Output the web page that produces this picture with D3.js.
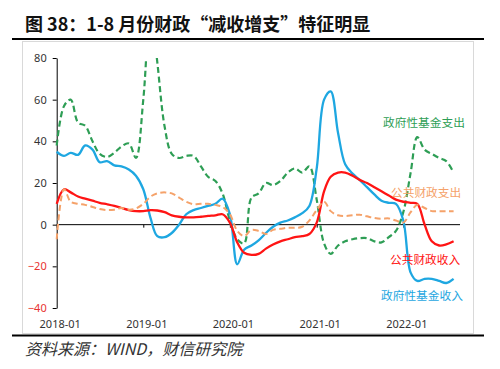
<!DOCTYPE html>
<html>
<head>
<meta charset="utf-8">
<script src="https://cdn.jsdelivr.net/npm/d3@7"></script>
<style>
  body { margin: 0; background: #fff; }
  svg { display: block; }
</style>
</head>
<body>
<svg id="chart" width="500" height="369"></svg>
<script>
// monthly data, 2018-01 .. 2022-08 (%, yoy cumulative)
const months = d3.timeMonth.range(new Date(2018, 0, 1), new Date(2022, 8, 1));

const fundExp = [38, 57, 60, 49, 47.5, 40, 34, 32.5, 34.5, 37.5,
  39, 32, 60, 105, 78, 47, 34, 32, 33, 33,
  28, 23, 21, 15, 2, -7, -9, 13, 15, 20,
  19, 21, 25, 27, 25, 28, 12, -9, -14, -10,
  -8, -7, -6.5, -6.5, -8, -8.5, -6, -3, 6, 25,
  42, 36, 34, 32, 30.5, 25];

const fundRev = [35, 33, 34.5, 33.5, 38, 36, 30, 30.5, 28.5, 28,
  26.5, 23.5, 17, 3, -5.5, -6, -4, 0, 5, 7,
  8, 9, 10, 12.5, 5, -19, -12, -10, -7.5, -4,
  -1, 1, 2, 3.5, 5.5, 9, 27, 60, 64, 44,
  29, 24.5, 21.5, 18, 14.5, 11.5, 10.5, 10, 2, -23,
  -27, -26, -26, -27, -28, -26];

const pubRev = [10, 17, 15.5, 13.5, 12.5, 11.5, 10.5, 9.8, 9, 8,
  7, 6.5, 6.5, 7, 6.8, 6, 4.5, 3.8, 3.5, 3.5,
  3.8, 4.2, 4.5, 5, 1, -8.5, -13.5, -14.5, -14, -11.5,
  -9.5, -8, -7, -6, -5.5, -4.5, 1, 16, 23, 25,
  25, 23.5, 21.5, 20, 18, 16, 14, 12, 11, 10.5,
  10, 0, -8, -10, -9.5, -8];

const pubExp = [-7, 17, 11, 10, 9.5, 8.5, 7.5, 7, 7.2, 8,
  7.2, 7.8, 10, 13.5, 15, 15.5, 15, 13, 11, 9.8,
  10, 10, 9.5, 8.5, 5, -3, -5.5, -2.5, -3, -4.5,
  -2.5, -2, -1.5, -1.5, -1, 2, 7, 11, 6.5, 4.5,
  4.2, 4.5, 4.8, 4, 3.2, 2.8, 3, 2, 1, 6,
  9.5, 8, 6.5, 6.5, 6.5, 6.5];

const yTicks = [80, 60, 40, 20, 0, -20, -40];
const xTicks = ['2018-01', '2019-01', '2020-01', '2021-01', '2022-01'];

const series = [
  { name: '政府性基金支出', values: fundExp, color: '#2e9e55', dash: '6,3.5', width: 2.2, lx: 383, ly: 127 },
  { name: '政府性基金收入', values: fundRev, color: '#1ea7e1', dash: null, width: 2.3, lx: 381, ly: 300 },
  { name: '公共财政收入', values: pubRev, color: '#ff1414', dash: null, width: 2.3, lx: 390, ly: 264 },
  { name: '公共财政支出', values: pubExp, color: '#f5a26a', dash: '6,3.5', width: 2, lx: 391, ly: 197 }
];

const svg = d3.select('#chart');
const parse = d3.timeParse('%Y-%m');

const x = d3.scaleTime()
  .domain([parse('2018-01'), parse('2022-01')])
  .range([56.7, 403.3]);

const y = d3.scaleLinear()
  .domain([-40, 80])
  .range([308, 58]);

// title + rules
svg.append('text')
  .attr('x', 25).attr('y', 31)
  .attr('font-family', '"Noto Sans CJK SC", sans-serif')
  .attr('font-weight', 'bold')
  .attr('font-size', 18)
  .attr('fill', '#111')
  .text('图 38：1-8 月份财政“减收增支”特征明显');

svg.append('rect')
  .attr('x', 22.5).attr('y', 41.5)
  .attr('width', 451).attr('height', 292)
  .attr('fill', 'none')
  .attr('stroke', '#d9d9d9');

svg.append('line')
  .attr('x1', 12).attr('x2', 484).attr('y1', 39).attr('y2', 39)
  .attr('stroke', '#000').attr('stroke-width', 2);
svg.append('line')
  .attr('x1', 12).attr('x2', 484).attr('y1', 335.5).attr('y2', 335.5)
  .attr('stroke', '#000').attr('stroke-width', 2);

// axes
const yAxis = svg.append('g')
  .attr('transform', `translate(${x.range()[0]},0)`)
  .call(d3.axisLeft(y).tickValues(yTicks).tickSize(4).tickSizeOuter(0));
yAxis.select('.domain').attr('stroke', '#000');
yAxis.selectAll('.tick line').attr('stroke', '#000');
yAxis.selectAll('.tick text')
  .attr('font-family', '"Noto Sans", sans-serif')
  .attr('font-size', 11)
  .attr('x', -10)
  .attr('fill', d => d < 0 ? '#e8322f' : '#333');

const xAxis = svg.append('g')
  .attr('transform', `translate(0,${y(0)})`)
  .call(d3.axisBottom(x)
    .tickValues(xTicks.map(parse))
    .tickSize(3)
    .tickFormat(() => ''));
xAxis.select('.domain')
  .attr('d', `M${x.range()[0]},0H460`)
  .attr('stroke', '#000');
xAxis.selectAll('.tick line').attr('stroke', '#000');

svg.append('g')
  .selectAll('text')
  .data(xTicks)
  .join('text')
  .attr('x', d => x(parse(d)) + 3.5)
  .attr('y', 328)
  .attr('text-anchor', 'middle')
  .attr('font-family', '"Noto Sans", sans-serif')
  .attr('font-size', 11)
  .attr('fill', '#333')
  .text(d => d);

// lines
svg.append('clipPath').attr('id', 'plot-clip')
  .append('rect')
  .attr('x', 50).attr('y', y(80))
  .attr('width', 420).attr('height', y(-40) - y(80));

const line = d3.line()
  .x((d, i) => x(months[i]))
  .y(d => y(d))
  .curve(d3.curveCatmullRom.alpha(0.5));

svg.append('g')
  .attr('clip-path', 'url(#plot-clip)')
  .selectAll('path')
  .data(series)
  .join('path')
  .attr('d', d => line(d.values))
  .attr('fill', 'none')
  .attr('stroke', d => d.color)
  .attr('stroke-width', d => d.width)
  .attr('stroke-dasharray', d => d.dash);

svg.append('g')
  .selectAll('text')
  .data(series)
  .join('text')
  .attr('x', d => d.lx)
  .attr('y', d => d.ly)
  .attr('font-family', '"Noto Sans CJK SC", sans-serif')
  .attr('font-size', 11.7)
  .attr('fill', d => d.color)
  .text(d => d.name);

// source
svg.append('text')
  .attr('x', 25).attr('y', 355)
  .attr('font-family', '"Noto Sans CJK SC", sans-serif')
  .attr('font-size', 16)
  .attr('font-style', 'italic')
  .attr('fill', '#333')
  .text('资料来源：WIND，财信研究院');
</script>
</body>
</html>
